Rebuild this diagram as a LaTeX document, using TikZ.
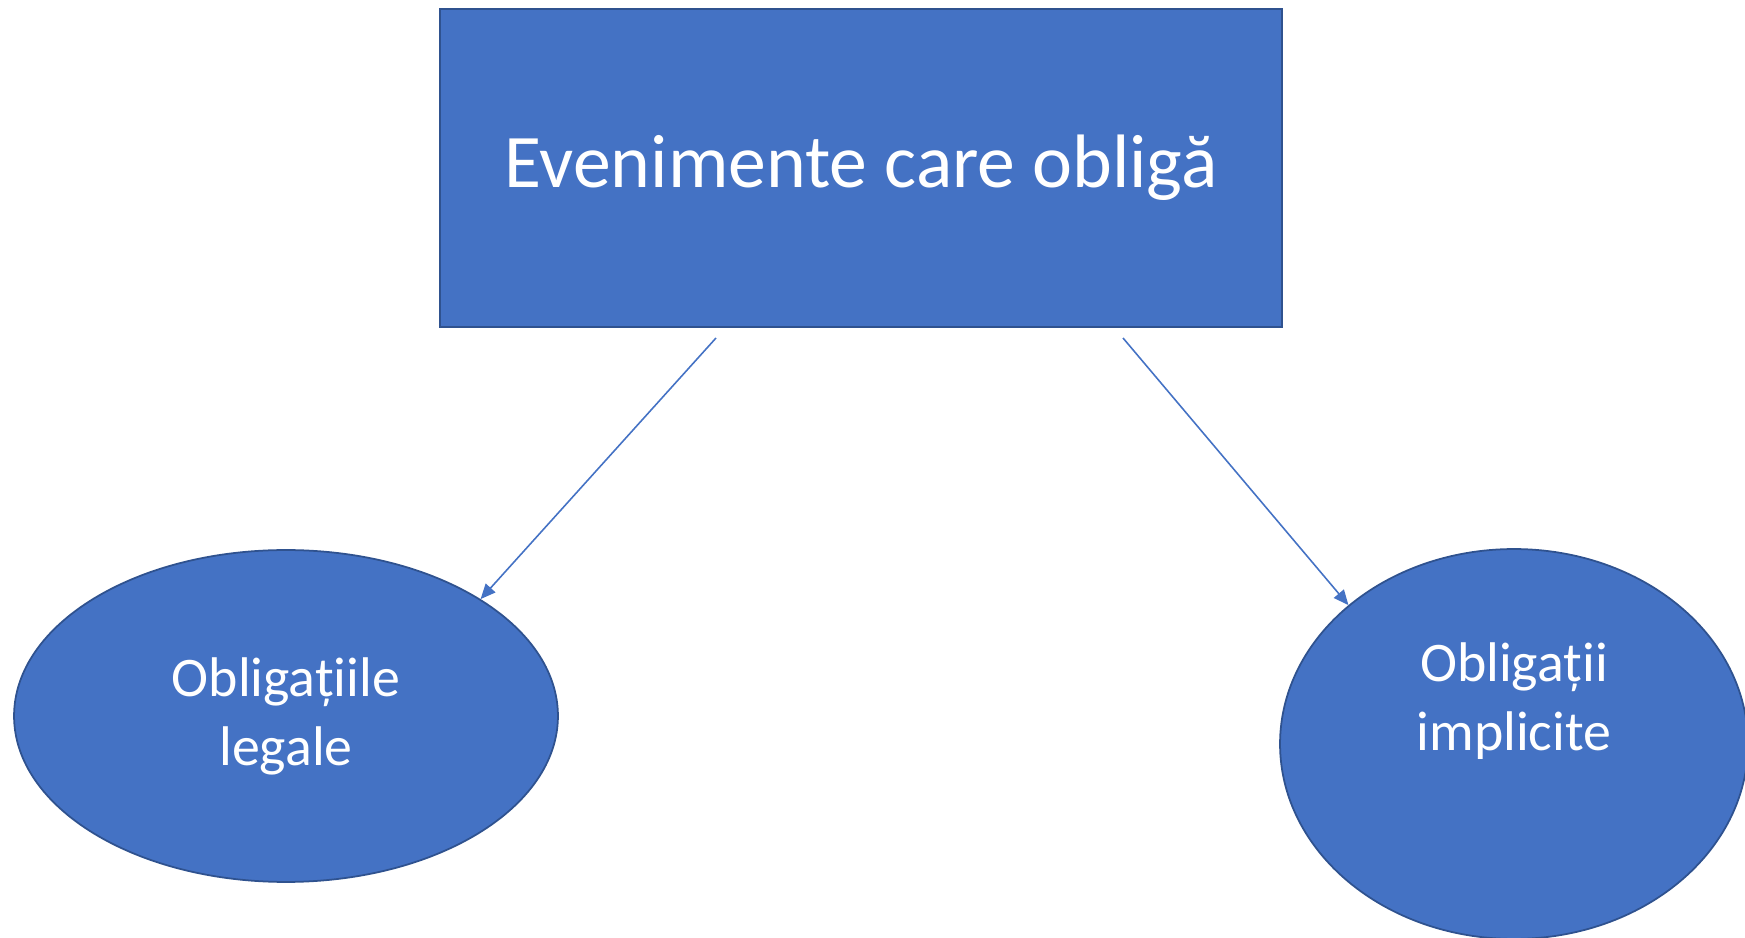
\documentclass[tikz,border=0pt]{standalone}
\usepackage{fontspec}
\setmainfont{Carlito}
\usetikzlibrary{shapes.geometric}
\usetikzlibrary{arrows.meta}
\definecolor{BLUE}{HTML}{4472C4}
\definecolor{DARKBLUE}{HTML}{2F528F}
\tikzset{
  box/.style={draw=DARKBLUE, fill=BLUE, line width=1.2pt, text=white, inner sep=0pt},
  blob/.style={ellipse, draw=DARKBLUE, fill=BLUE, line width=1pt, text=white, inner sep=0pt, align=center,
    font=\fontsize{31.8}{39.3}\selectfont},
  link/.style={BLUE, line width=0.9pt, -{Triangle[length=0.3cm, width=0.26cm]}}
}
\begin{document}
\begin{tikzpicture}[x=0.02cm, y=0.02cm]
    \useasboundingbox (0,0) rectangle (1745,937);
    % Nodes
    \node[box, minimum width=16.84cm, minimum height=6.36cm, font=\fontsize{43.1}{50}\selectfont] (ev) at (861,769) {Evenimente care obligă};
    \node[blob, minimum width=10.88cm, minimum height=6.64cm] (legal) at (286,221) {Obligațiile\\legale};
    \node[blob, minimum width=9.36cm, minimum height=7.8cm] (impl) at (1514,193) {};
    \node[text=white, align=center, font=\fontsize{31.8}{39.3}\selectfont] (impltext) at (1514,236) {Obligații\\implicite};
    % Arrows
    \coordinate (from1) at (716,599);
    \coordinate (from2) at (1123,599);
    \draw[link] (from1) -- (legal.31);
    \draw[link] (from2) -- (impl.140);
\end{tikzpicture}
\end{document}
